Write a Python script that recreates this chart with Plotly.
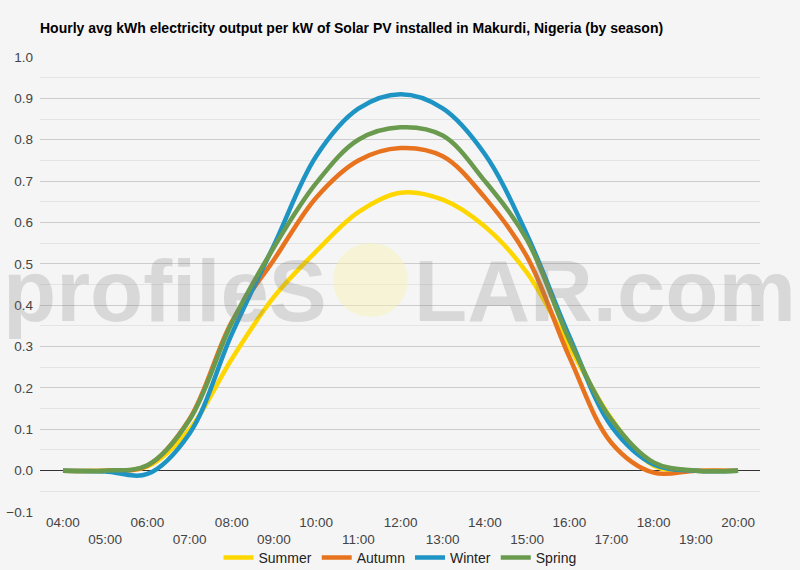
import plotly.graph_objects as go

hours = list(range(4, 21))
tick_labels = [f"{h:02d}:00" for h in hours]

summer = [0, 0, 0.01, 0.10, 0.27, 0.42, 0.53, 0.625, 0.672, 0.655, 0.59, 0.478, 0.30, 0.125, 0.012, 0, 0]
autumn = [0, 0, 0.012, 0.125, 0.36, 0.51, 0.66, 0.75, 0.78, 0.76, 0.66, 0.517, 0.275, 0.067, -0.005, 0, 0]
winter = [0, -0.002, -0.008, 0.09, 0.33, 0.545, 0.76, 0.875, 0.91, 0.876, 0.765, 0.57, 0.325, 0.107, 0.015, 0, 0]
spring = [0, 0, 0.013, 0.123, 0.357, 0.54, 0.695, 0.80, 0.83, 0.81, 0.70, 0.558, 0.316, 0.123, 0.02, 0, 0]

series = [
    ("Summer", summer, "#FFD700"),
    ("Autumn", autumn, "#E8731E"),
    ("Winter", winter, "#1E94C4"),
    ("Spring", spring, "#6A9A4E"),
]

fig = go.Figure()
for name, vals, col in series:
    fig.add_trace(go.Scatter(x=hours, y=vals, name=name, mode="lines",
                             line=dict(color=col, width=4.5, shape="spline", smoothing=1.0)))

ticktext = [t if i % 2 == 0 else "<br>" + t for i, t in enumerate(tick_labels)]

W, H = 800, 570
L, R, T, B = 40, 40, 57, 58
pw, ph = W - L - R, H - T - B

def px(x):
    return (x - L) / pw

def py(y):
    return (H - B - y) / ph

fig.update_layout(
    width=W, height=H,
    margin=dict(l=L, r=R, t=T, b=B, autoexpand=False),
    paper_bgcolor="#F5F5F5", plot_bgcolor="#F5F5F5",
    font=dict(family="Liberation Sans, Arial, sans-serif", size=13, color="#444"),
    title=dict(text="<b>Hourly avg kWh electricity output per kW of Solar PV installed in Makurdi, Nigeria (by season)</b>",
               x=40 / W, xanchor="left", y=1 - 28 / H, yanchor="middle",
               font=dict(size=14, color="#000")),
    xaxis=dict(range=[3.455, 20.52], tickmode="array", tickvals=hours, ticktext=ticktext,
               showgrid=False, zeroline=False, showline=False, ticks="",
               tickfont=dict(size=13.5, color="#444")),
    yaxis=dict(range=[-0.1, 1.0], tickmode="array", tickvals=[round(-0.1 + 0.1 * i, 1) for i in range(12)],
               tickformat=".1f", showgrid=True, gridcolor="#CCCCCC", gridwidth=1,
               zeroline=True, zerolinecolor="#333333", zerolinewidth=1,
               minor=dict(dtick=0.05, showgrid=True, gridcolor="#E4E4E4", gridwidth=1),
               ticks="", ticklabelstandoff=6, tickfont=dict(size=13.5, color="#444")),
    legend=dict(orientation="h", x=0.5, xanchor="center", y=py(558), yanchor="middle",
                font=dict(size=14, color="#222"), bgcolor="rgba(0,0,0,0)", itemwidth=30),
    showlegend=True,
)

# watermark
wm_color = "rgba(120,120,120,0.23)"
wm_font = dict(size=87, color=wm_color, family="Liberation Sans, Arial, sans-serif")
fig.add_annotation(text="<b>profileS</b>", xref="paper", yref="paper", x=px(329), y=py(290),
                   xanchor="right", yanchor="middle", showarrow=False, font=wm_font)
fig.add_annotation(text="<b>LAR.com</b>", xref="paper", yref="paper", x=px(412), y=py(290),
                   xanchor="left", yanchor="middle", showarrow=False, font=wm_font)
fig.add_shape(type="circle", xref="paper", yref="paper",
              x0=px(333), x1=px(408), y0=py(317), y1=py(243),
              fillcolor="rgba(250,242,180,0.45)", line=dict(width=0), layer="above")

fig.write_html("out.html")
